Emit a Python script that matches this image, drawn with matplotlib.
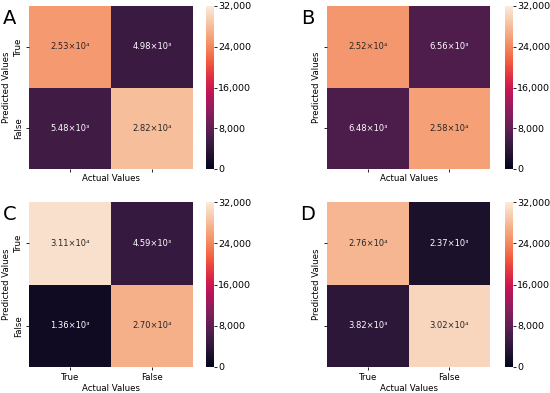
import numpy as np
import matplotlib
matplotlib.use("Agg")
import matplotlib.pyplot as plt
import seaborn as sns
from matplotlib.ticker import FuncFormatter

panel_letters = ["A", "B", "C", "D"]
class_labels = ["True", "False"]
values_A = [[25300, 4980], [5480, 28200]]
values_B = [[25200, 6560], [6480, 25800]]
values_C = [[31100, 4590], [1360, 27000]]
values_D = [[27600, 2370], [3820, 30200]]
annot_A = [["2.53×10⁴", "4.98×10³"], ["5.48×10³", "2.82×10⁴"]]
annot_B = [["2.52×10⁴", "6.56×10³"], ["6.48×10³", "2.58×10⁴"]]
annot_C = [["3.11×10⁴", "4.59×10³"], ["1.36×10³", "2.70×10⁴"]]
annot_D = [["2.76×10⁴", "2.37×10³"], ["3.82×10³", "3.02×10⁴"]]
cbar_ticks = [0, 8000, 16000, 24000, 32000]

W, H = 550, 393
fig = plt.figure(figsize=(W / 100, H / 100), dpi=100)

def fx(px):
    return px / W

def fy(top, bottom):
    return (H - bottom) / H, (bottom - top) / H

panels = [
    (values_A, annot_A, 29, 193, 6, 169, 206, "A", True, False),
    (values_B, annot_B, 327, 490, 6, 169, 505, "B", False, False),
    (values_C, annot_C, 29, 193, 202, 367, 206, "C", True, True),
    (values_D, annot_D, 327, 490, 202, 367, 505, "D", False, True),
]

fs = 6.2
for vals, ann, x0, x1, top, bot, cbx, letter, show_y, show_x in panels:
    b, h = fy(top, bot)
    ax = fig.add_axes([fx(x0), b, fx(x1 - x0), h])
    cax = fig.add_axes([fx(cbx), b, fx(8), h])
    sns.heatmap(np.array(vals), annot=np.array(ann), fmt="", cmap="rocket",
                vmin=0, vmax=32000, ax=ax, cbar_ax=cax,
                annot_kws={"fontsize": 6},
                cbar_kws={"ticks": cbar_ticks,
                          "format": FuncFormatter(lambda v, p: f"{int(v):,}")})
    cax.tick_params(labelsize=6.8, length=2, width=0.6, pad=1)
    cax.set_frame_on(False)
    ax.set_xticks([0.5, 1.5])
    ax.set_yticks([0.5, 1.5])
    ax.set_xticklabels(class_labels, fontsize=fs)
    ax.set_yticklabels(class_labels, fontsize=fs, rotation=90, va="center")
    ax.tick_params(length=2.5, width=0.6, pad=2,
                   labelbottom=show_x, labelleft=show_y)
    ax.set_xlabel("Actual Values", fontsize=fs, labelpad=1)
    ax.set_ylabel("Predicted Values", fontsize=fs, labelpad=2)
    fig.text(fx(x0 - 19), (H - top - 12) / H, letter, fontsize=14,
             ha="center", va="center")

fig.savefig("out.png", dpi=100)
